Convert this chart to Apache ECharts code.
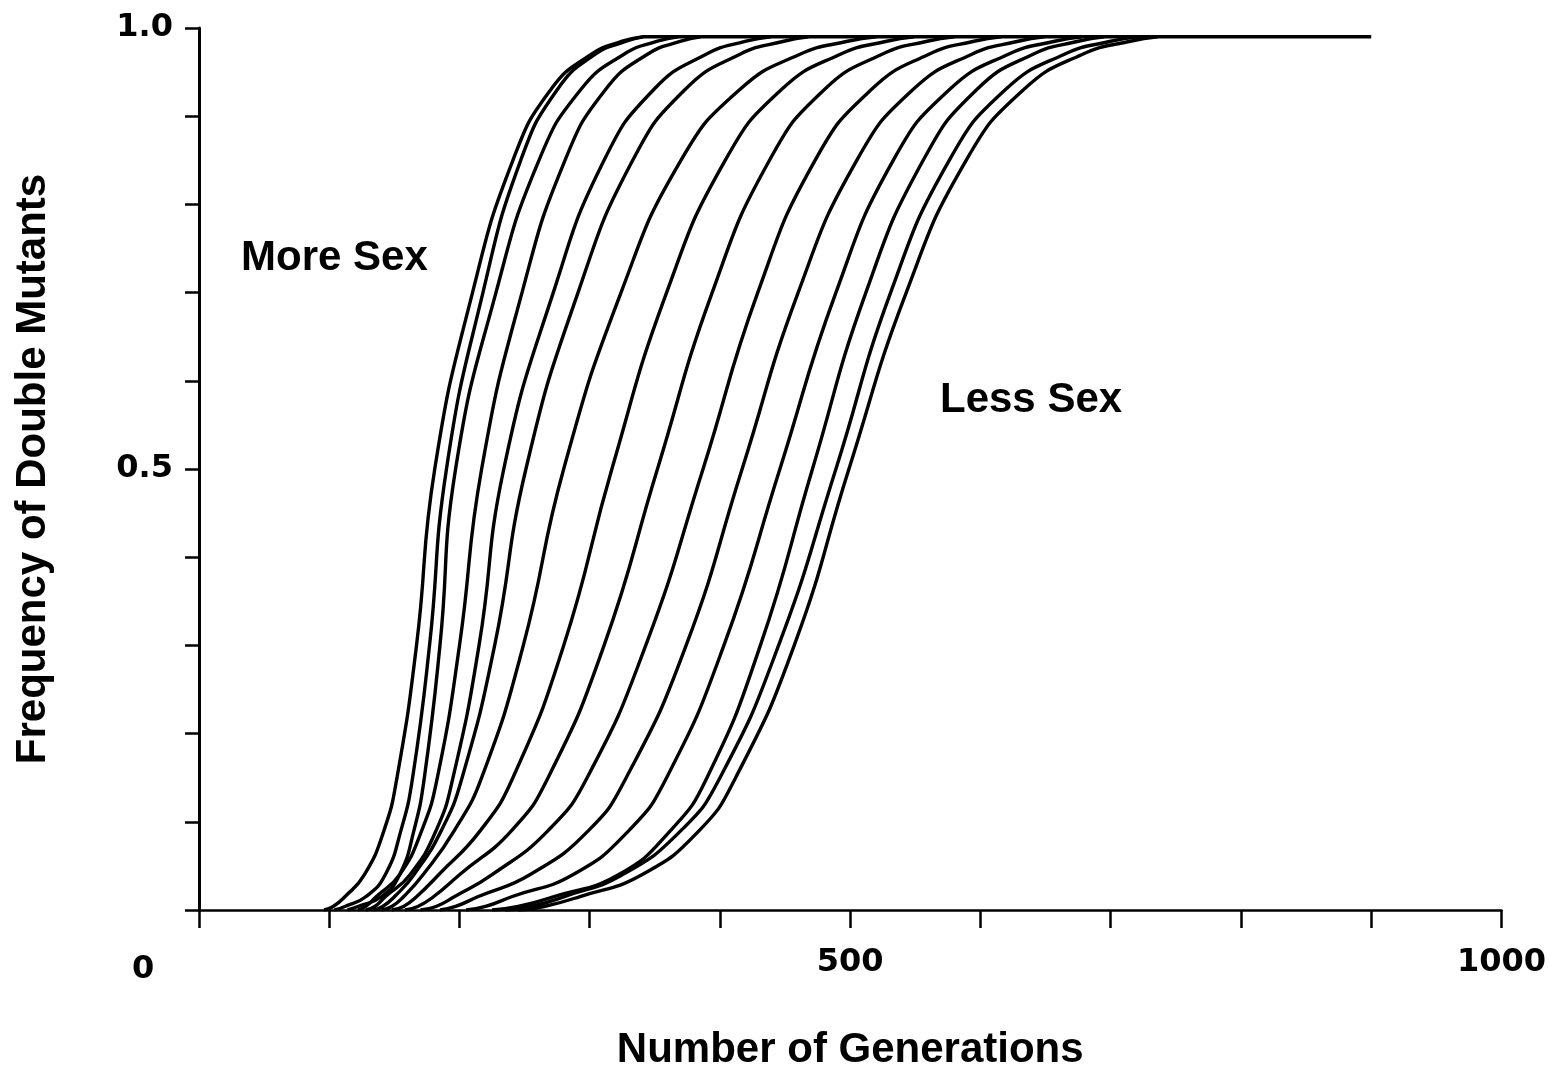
<!DOCTYPE html>
<html>
<head>
<meta charset="utf-8">
<script src="https://cdn.jsdelivr.net/npm/echarts@6/dist/echarts.min.js"></script>
<style>
  html, body { margin: 0; padding: 0; background: #ffffff; overflow: hidden; }
  #chart { width: 1549px; height: 1076px; }
</style>
</head>
<body>
<div id="chart"></div>
<script>
const yLevels = [0, 0.004, 0.015, 0.04, 0.09, 0.15, 0.3, 0.5, 0.7, 0.85, 0.93, 0.97, 0.985, 0.99];
// Generation (x) at which each curve reaches the matching level in yLevels (left = more sex, right = less sex)
const curve01 = [96, 103, 112, 127, 142, 152, 167, 181, 210, 241, 270, 301, 325, 340];
const curve02 = [104, 112, 128, 143, 155, 164, 177, 190, 218, 247, 275, 304, 328, 341];
const curve03 = [114, 122, 140, 154, 165, 173, 185, 197, 228, 261, 293, 326, 352, 368];
const curve04 = [122, 128, 136, 154, 171, 183, 200, 217, 248, 281, 312, 344, 370, 385];
const curve05 = [128, 135, 143, 162, 182, 195, 215, 234, 272, 311, 349, 389, 420, 439];
const curve06 = [134, 141, 150, 165, 186, 202, 227, 251, 291, 333, 373, 415, 449, 468];
const curve07 = [140, 148, 157, 172, 196, 217, 249, 280, 324, 370, 415, 461, 498, 520];
const curve08 = [148, 157, 167, 184, 216, 241, 280, 317, 359, 404, 447, 492, 528, 549];
const curve09 = [158, 168, 180, 200, 240, 268, 311, 352, 394, 438, 480, 524, 559, 580];
const curve10 = [170, 182, 196, 225, 268, 298, 343, 387, 429, 473, 516, 560, 595, 616];
const curve11 = [185, 197, 214, 254, 299, 328, 374, 417, 460, 505, 548, 593, 629, 649];
const curve12 = [205, 220, 240, 287, 330, 359, 403, 446, 489, 533, 576, 621, 657, 678];
const curve13 = [225, 245, 272, 322, 362, 390, 431, 471, 512, 556, 597, 640, 675, 695];
const curve14 = [235, 255, 280, 325, 370, 400, 445, 489, 531, 576, 619, 664, 700, 721];
const curve15 = [245, 265, 292, 340, 384, 412, 457, 499, 543, 589, 633, 678, 715, 736];
const curves = [curve01, curve02, curve03, curve04, curve05, curve06, curve07, curve08,
                curve09, curve10, curve11, curve12, curve13, curve14, curve15];
// Plateau: all curves run flat at this frequency up to this generation
const plateauLevel = 0.99;
const plateauEnd = 900;
// Tick labels
const xLabels = { 500: '500', 1000: '1000' };
const yLabels = { '0.5': '0.5', '1': '1.0' };

const chart = echarts.init(document.getElementById('chart'), null, { renderer: 'canvas' });

const lineStyle = { color: '#000', width: 3.4 };
const series = curves.map(function (row, i) {
  return {
    type: 'line',
    name: 'curve' + (i + 1),
    data: row.map(function (x, j) { return [x, yLevels[j]]; }),
    smooth: 0.5,
    showSymbol: false,
    symbol: 'none',
    silent: true,
    lineStyle: lineStyle,
    z: 3
  };
});
const plateauStart = Math.min.apply(null, curves.map(function (r) { return r[r.length - 1]; }));
series.push({
  type: 'line',
  name: 'plateau',
  data: [[plateauStart, plateauLevel], [plateauEnd, plateauLevel]],
  showSymbol: false,
  symbol: 'none',
  silent: true,
  lineStyle: lineStyle,
  z: 3
});

const labelFont = 'Liberation Sans, Arial, Helvetica, sans-serif';
const tickFont = 'DejaVu Sans, Verdana, sans-serif';

chart.setOption({
  animation: false,
  backgroundColor: '#ffffff',
  grid: { left: 199, right: 42, top: 28, bottom: 155, containLabel: false },
  xAxis: {
    type: 'value',
    min: 0, max: 1000, interval: 100,
    name: 'Number of Generations',
    nameLocation: 'middle',
    nameGap: 119,
    nameTextStyle: { fontFamily: labelFont, fontWeight: 'bold', fontSize: 42, color: '#000' },
    axisLine: { show: true, onZero: false, lineStyle: { color: '#000', width: 2.5 } },
    axisTick: { show: true, inside: false, length: 18, lineStyle: { color: '#000', width: 2.5 } },
    axisLabel: {
      margin: 37,
      fontFamily: tickFont, fontWeight: 'bold', fontSize: 32, color: '#000',
      formatter: function (v) { return xLabels[v] || ''; }
    },
    splitLine: { show: false }
  },
  yAxis: {
    type: 'value',
    min: 0, max: 1, interval: 0.1,
    name: 'Frequency of Double Mutants',
    nameLocation: 'middle',
    nameGap: 145,
    nameRotate: 90,
    nameTextStyle: { fontFamily: labelFont, fontWeight: 'bold', fontSize: 42, color: '#000' },
    axisLine: { show: true, onZero: false, lineStyle: { color: '#000', width: 3 } },
    axisTick: { show: true, inside: false, length: 14, lineStyle: { color: '#000', width: 2.5 } },
    axisLabel: {
      margin: 26,
      fontFamily: tickFont, fontWeight: 'bold', fontSize: 32, color: '#000',
      formatter: function (v) { return yLabels[String(Math.round(v * 10) / 10)] || ''; }
    },
    splitLine: { show: false }
  },
  graphic: [
    { type: 'text', left: 132, top: 954, silent: true,
      style: { text: '0', font: 'bold 32px ' + tickFont, fill: '#000' } },
    { type: 'text', left: 241, top: 237, silent: true,
      style: { text: 'More Sex', font: 'bold 42px ' + labelFont, fill: '#000' } },
    { type: 'text', left: 940, top: 379, silent: true,
      style: { text: 'Less Sex', font: 'bold 42px ' + labelFont, fill: '#000' } }
  ],
  series: series
});
</script>
</body>
</html>
